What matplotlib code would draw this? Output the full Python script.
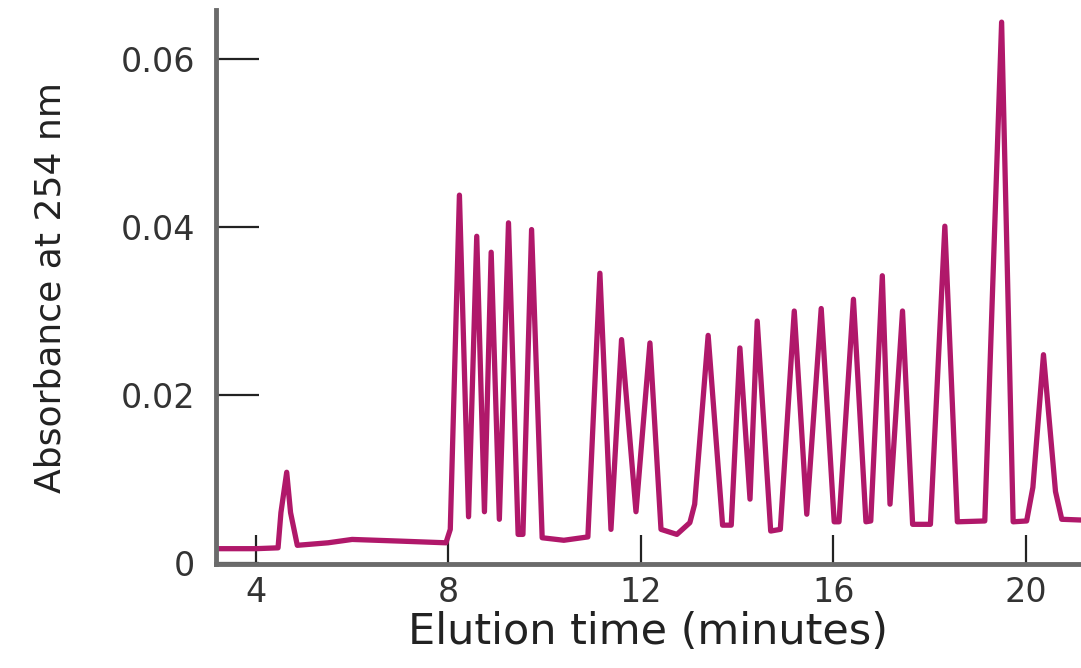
#!/usr/bin/env python3
"""
Redraw of an HPLC chromatogram: absorbance at 254 nm vs elution time.
"""

import matplotlib
matplotlib.use("Agg")
import matplotlib.pyplot as plt

# Trace points (minutes, absorbance)
elution_time = [
    3.17, 4.00, 4.46, 4.52, 4.64, 4.72, 4.86, 5.50, 6.00, 7.00,
    7.95, 8.04, 8.23, 8.42, 8.59, 8.75, 8.89, 9.06, 9.25, 9.45,
    9.55, 9.73, 9.95, 10.40, 10.90, 11.15, 11.38, 11.60, 11.90, 12.19,
    12.42, 12.75, 13.02, 13.12, 13.40, 13.70, 13.88, 14.06, 14.27, 14.42,
    14.70, 14.90, 15.19, 15.45, 15.75, 16.02, 16.12, 16.42, 16.68, 16.78,
    17.02, 17.18, 17.44, 17.65, 18.02, 18.32, 18.58, 19.15, 19.50, 19.74,
    20.02, 20.15, 20.37, 20.62, 20.75, 21.20,
]
absorbance = [
    0.0017, 0.0017, 0.0018, 0.0060, 0.0108, 0.0060, 0.0021, 0.0024, 0.0028, 0.0026,
    0.0024, 0.0040, 0.0438, 0.0055, 0.0389, 0.0061, 0.0370, 0.0052, 0.0405, 0.0034,
    0.0034, 0.0397, 0.0030, 0.0027, 0.0031, 0.0345, 0.0040, 0.0266, 0.0061, 0.0262,
    0.0040, 0.0034, 0.0048, 0.0070, 0.0271, 0.0045, 0.0045, 0.0256, 0.0076, 0.0288,
    0.0038, 0.0040, 0.0300, 0.0058, 0.0303, 0.0049, 0.0049, 0.0314, 0.0049, 0.0050,
    0.0342, 0.0070, 0.0300, 0.0046, 0.0046, 0.0401, 0.0049, 0.0050, 0.0644, 0.0049,
    0.0050, 0.0090, 0.0248, 0.0085, 0.0052, 0.0051,
]

x_ticks = [4, 8, 12, 16, 20]
y_ticks = [0, 0.02, 0.04, 0.06]
y_tick_labels = ["0", "0.02", "0.04", "0.06"]

LINE_COLOR = "#b0186a"
SPINE_COLOR = "#6b6b6b"


def main():
    fig = plt.figure(figsize=(10.81, 6.68), dpi=100)
    ax = fig.add_axes([0.1998, 0.155, 0.8002, 0.8307])

    ax.plot(elution_time, absorbance, color=LINE_COLOR, linewidth=3.8,
            solid_joinstyle="round")

    ax.set_xlim(3.17, 21.15)
    ax.set_ylim(-0.00018, 0.0659)

    # only left/bottom axes, thick gray
    for side in ("top", "right"):
        ax.spines[side].set_visible(False)
    for side in ("left", "bottom"):
        ax.spines[side].set_color(SPINE_COLOR)
        ax.spines[side].set_linewidth(3.5)

    ax.set_xticks(x_ticks)
    ax.set_xticklabels([str(t) for t in x_ticks])
    ax.set_yticks(y_ticks)
    ax.set_yticklabels(y_tick_labels)

    ax.tick_params(axis="y", direction="in", length=31, width=1.6,
                   color="#222222", pad=15, labelsize=24, labelcolor="#333333")
    ax.tick_params(axis="x", direction="in", length=21, width=1.6,
                   color="#222222", pad=8, labelsize=24, labelcolor="#333333")

    ax.set_xlabel("Elution time (minutes)", fontsize=31, color="#222222",
                  labelpad=2)
    ax.set_ylabel("Absorbance at 254 nm", fontsize=26, color="#222222",
                  labelpad=38)

    fig.savefig("out.png", dpi=100)
    plt.close(fig)


if __name__ == "__main__":
    main()
